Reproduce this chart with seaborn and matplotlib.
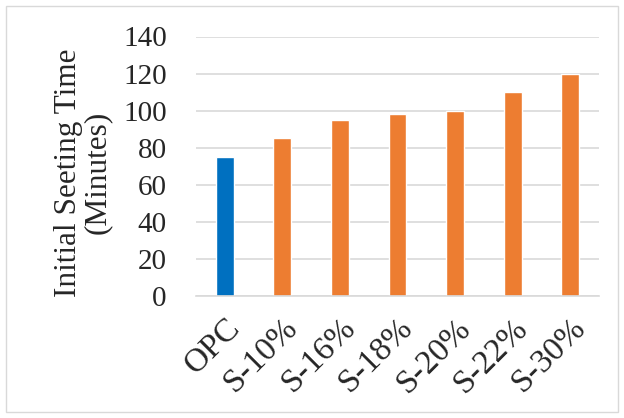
import matplotlib
matplotlib.use("Agg")
import matplotlib.pyplot as plt
import seaborn as sns
import pandas as pd
from matplotlib.patches import Rectangle

categories = ["OPC", "S-10%", "S-16%", "S-18%", "S-20%", "S-22%", "S-30%"]
setting_time = [75, 85, 95, 98, 100, 110, 120]
bar_colors = ["#0070C0", "#ED7D31", "#ED7D31", "#ED7D31", "#ED7D31", "#ED7D31", "#ED7D31"]
y_ticks = [0, 20, 40, 60, 80, 100, 120, 140]

sns.set_theme(style="white")
plt.rcParams["font.family"] = ["Liberation Serif", "DejaVu Serif"]

df = pd.DataFrame({"mix": categories, "time": setting_time})

fig = plt.figure(figsize=(6.24, 4.18), dpi=100)
ax = fig.add_axes([196 / 624, 1 - 296 / 418, (599 - 196) / 624, (296 - 36.5) / 418])

sns.barplot(data=df, x="mix", y="time", hue="mix", palette=bar_colors,
            legend=False, width=0.31, saturation=1, ax=ax)

ax.set_ylim(0, 140)
ax.set_xlim(-0.5, len(categories) - 0.5)
ax.set_yticks(y_ticks)
ax.set_yticklabels([str(v) for v in y_ticks], fontsize=21)
ax.yaxis.grid(True, color="#d9d9d9", linewidth=1.2)
ax.set_axisbelow(True)
ax.tick_params(axis="y", length=0, pad=21)

# category boundary ticks along the x axis
ax.set_xticks([i - 0.5 for i in range(len(categories) + 1)], minor=True)
ax.tick_params(axis="x", which="minor", length=4, color="#d9d9d9", width=1.2, direction="out")
ax.tick_params(axis="x", which="major", length=0, pad=12)
ax.set_xticks(range(len(categories)))
ax.set_xticklabels(categories, fontsize=24, rotation=45, ha="right",
                   rotation_mode="anchor")

for side in ["top", "right", "left"]:
    ax.spines[side].set_visible(False)
ax.spines["bottom"].set_color("#d9d9d9")
ax.spines["bottom"].set_linewidth(1.2)

ax.set_xlabel("")
ax.set_ylabel("Initial Seeting Time\n(Minutes)", fontsize=22.5, linespacing=1.0, labelpad=8)
ax.yaxis.label.set_y(0.475)

fig.patches.append(Rectangle((6 / 624, 6 / 418), 1 - 12 / 624, 1 - 12 / 418,
                             transform=fig.transFigure, fill=False,
                             edgecolor="#d9d9d9", linewidth=1))

fig.savefig("out.png", dpi=100)
